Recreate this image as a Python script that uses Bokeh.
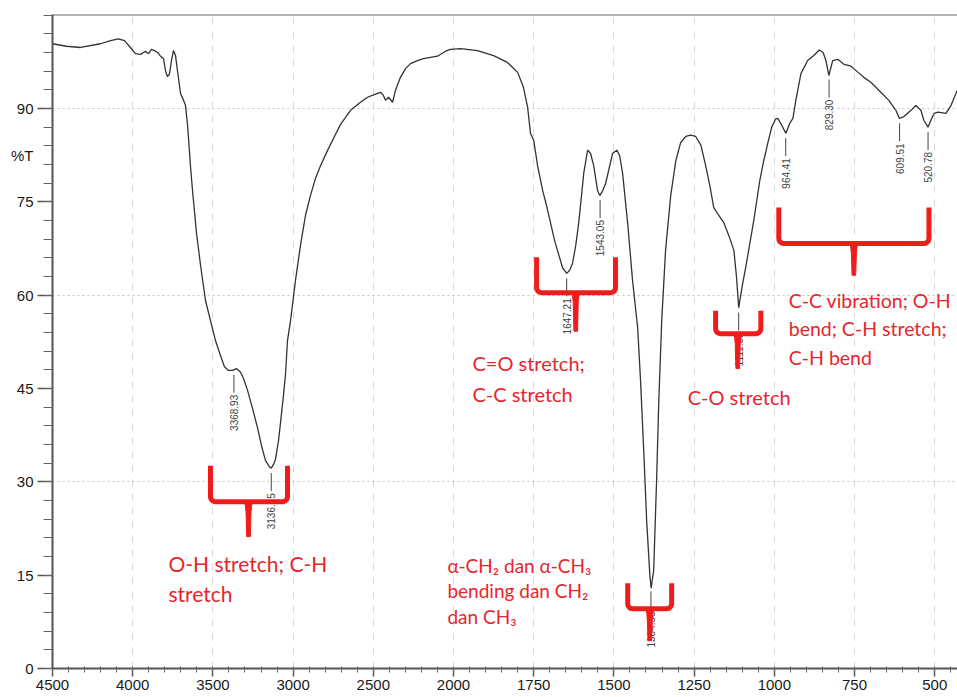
import numpy as np
from bokeh.plotting import figure
from bokeh.models import Range1d, FixedTicker, Span, LinearAxis
from bokeh.embed import file_html
from bokeh.resources import INLINE
from bokeh.core.properties import value

# ---------------- data ----------------
wavenumber = [4500, 4413, 4325, 4201, 4138, 4089, 4051, 4014, 3983, 3951, 3920, 3901, 3883,
              3864, 3845, 3827, 3808, 3796, 3783, 3771, 3758, 3746, 3733, 3721, 3702, 3683,
              3671, 3658, 3652, 3640, 3627, 3602, 3577, 3546, 3515, 3484, 3453, 3428, 3403,
              3378, 3353, 3328, 3309, 3284, 3253, 3222, 3197, 3172, 3147, 3136, 3122, 3110,
              3091, 3079, 3060, 3047, 3035, 3016, 2985, 2954, 2923, 2892, 2860, 2829, 2792,
              2754, 2705, 2642, 2580, 2536, 2486, 2455, 2437, 2424, 2405, 2380, 2362, 2331,
              2299, 2268, 2225, 2187, 2144, 2100, 2050, 2019, 1978, 1925, 1875, 1832, 1800,
              1782, 1769, 1760, 1750, 1738, 1722, 1710, 1697, 1685, 1676, 1660, 1647, 1638,
              1629, 1619, 1610, 1601, 1594, 1582, 1573, 1563, 1551, 1544, 1535, 1526, 1513,
              1504, 1491, 1482, 1473, 1457, 1442, 1426, 1417, 1407, 1398, 1388, 1384, 1376,
              1367, 1360, 1351, 1339, 1323, 1307, 1292, 1276, 1261, 1245, 1229, 1214, 1201,
              1189, 1173, 1158, 1142, 1126, 1118, 1111, 1100, 1089, 1064, 1045, 1033, 1020,
              1008, 996, 989, 977, 964, 952, 942, 933, 917, 896, 877, 860, 848, 839, 830,
              818, 802, 783, 761, 739, 721, 699, 668, 643, 621, 610, 596, 574, 559, 543,
              534, 521, 512, 502, 490, 465, 449, 430]
transmittance = [100.4, 100.0, 99.8, 100.4, 100.9, 101.2, 100.9, 99.8, 98.8, 98.7, 99.2, 98.8,
                 99.5, 99.3, 99.0, 98.4, 98.0, 96.1, 95.1, 95.5, 97.7, 99.3, 98.5, 96.1, 92.4,
                 91.3, 90.5, 87.3, 85.2, 80.8, 76.8, 69.9, 64.8, 59.1, 55.9, 52.7, 50.3, 48.5,
                 47.9, 47.9, 48.2, 47.6, 46.6, 44.7, 41.8, 38.7, 35.8, 33.4, 32.4, 32.2, 32.8,
                 33.6, 36.6, 39.4, 43.9, 47.4, 52.7, 55.9, 62.4, 68.0, 72.8, 76.0, 78.8, 80.8,
                 82.9, 84.9, 87.4, 89.7, 91.0, 91.8, 92.3, 92.6, 92.1, 91.3, 91.8, 91.0, 92.9,
                 95.0, 96.4, 97.2, 97.7, 98.0, 98.2, 98.4, 99.2, 99.5, 99.6, 99.3, 98.5, 97.4,
                 95.8, 93.4, 90.2, 86.0, 84.9, 80.8, 76.8, 74.4, 71.5, 68.8, 67.2, 64.4, 63.5,
                 64.0, 65.1, 68.0, 71.5, 76.0, 79.6, 83.3, 82.8, 80.8, 76.8, 76.0, 76.8, 77.9,
                 80.8, 82.8, 83.3, 82.4, 79.6, 71.5, 62.4, 54.8, 46.3, 35.0, 23.8, 15.0, 12.9,
                 15.8, 30.2, 43.1, 55.9, 67.2, 76.0, 81.6, 84.5, 85.5, 85.7, 85.5, 84.1, 80.8,
                 77.6, 74.1, 72.8, 71.7, 69.6, 67.2, 63.0, 58.0, 61.5, 64.5, 72.0, 78.5, 81.6,
                 84.5, 87.0, 88.3, 88.4, 87.3, 86.0, 87.6, 88.4, 91.3, 95.6, 97.7, 98.5, 99.4,
                 99.0, 97.7, 95.3, 97.7, 97.9, 97.1, 96.8, 95.8, 95.0, 94.2, 92.6, 91.3, 89.7,
                 88.4, 88.7, 89.7, 90.5, 89.7, 88.1, 87.0, 88.1, 89.2, 89.4, 89.2, 90.5, 92.9]

peak_wavenumbers = [3368.93, 3136.15, 1647.21, 1543.05, 1384.56, 1111.03, 964.41, 829.30,
                    609.51, 520.78]
peak_labels = ["3368.93", "3136.15", "1647.21", "1543.05", "1384.56", "1111.03", "964.41",
               "829.30", "609.51", "520.78"]

x_tick_wavenumbers = [4500, 4000, 3500, 3000, 2500, 2000, 1750, 1500, 1250, 1000, 750, 500]
x_tick_labels = ["4500", "4000", "3500", "3000", "2500", "2000", "1750", "1500", "1250",
                 "1000", "750", "500"]
y_tick_values = [0, 15, 30, 45, 60, 75, 90]
y_unit_label = "%T"
y_unit_position = 82.4
y_grid_values = [30, 60, 90]

# red brace annotations (wavenumber / %T positions)
bracket_left = [3515, 1741, 1457, 1183, 986]
bracket_right = [3035, 1495, 1320, 1042, 518]
bracket_center = [3278, 1619, 1388, 1114, 752]
bracket_top = [32.6, 66.1, 13.7, 57.5, 74.1]
bracket_mid = [26.8, 60.4, 9.6, 53.8, 68.3]
bracket_bottom = [21.2, 54.2, 4.5, 48.2, 63.2]

note_texts = ["O-H stretch; C-H\nstretch",
              "C=O stretch;\nC-C stretch",
              "C-O stretch",
              "C-C vibration; O-H\nbend; C-H stretch;\nC-H bend",
              "\u03b1-CH\u2082 dan \u03b1-CH\u2083\nbending dan CH\u2082\ndan CH\u2083"]
note_wn = [3777, 1941, 1270, 955, 2038]
note_top = [18.9, 51.0, 45.6, 61.0, 18.4]
note_sizes = ["21px", "20px", "20px", "19.5px", "19px"]
note_line_heights = [1.2, 1.29, 1.2, 1.24, 1.1]

# ---------------- helpers ----------------
PX_PER_U = 80.2      # pixels per axis step
PX_PER_T = 6.222     # pixels per %T


def to_u(wn):
    """Split wavenumber axis: 500 cm-1 per step above 2000, 250 cm-1 per step below."""
    wn = np.asarray(wn, dtype=float)
    return np.where(wn >= 2000, (4500 - wn) / 500.0, 5 + (2000 - wn) / 250.0)


wn_arr = np.array(wavenumber, dtype=float)
t_arr = np.array(transmittance, dtype=float)
u_arr = to_u(wn_arr)

p = figure(width=957, height=697, output_backend="svg", toolbar_location=None,
           x_range=Range1d(0, 11.284), y_range=Range1d(0, 105.1),
           min_border_left=52, min_border_right=0, min_border_top=14, min_border_bottom=29)
p.outline_line_color = None
p.background_fill_color = "white"
p.border_fill_color = "white"

# x axis
p.xaxis.ticker = FixedTicker(ticks=list(to_u(x_tick_wavenumbers)),
                             minor_ticks=[round(i * 0.2, 3) for i in range(0, 57)])
p.xaxis.major_label_overrides = {float(u): lab for u, lab in zip(to_u(x_tick_wavenumbers), x_tick_labels)}
p.xaxis.axis_line_color = "#555555"
p.xaxis.axis_line_width = 2
p.xaxis.major_tick_line_color = "#555555"
p.xaxis.minor_tick_line_color = "#666666"
p.xaxis.major_tick_line_width = 1.5
p.xaxis.major_tick_in = 0
p.xaxis.major_tick_out = 8
p.xaxis.minor_tick_out = 4
p.xaxis.minor_tick_in = 2
p.xaxis.major_label_standoff = 3
p.xaxis.major_label_text_font = "Liberation Sans"
p.xaxis.major_label_text_font_size = "15px"
p.xaxis.major_label_text_color = "#1a1a1a"

# y axis: ticks and line (inner), labels on a second axis (outer) so "%T" can sit among them
yax = p.yaxis[0]
yax.ticker = FixedTicker(ticks=y_tick_values, minor_ticks=list(range(0, 106, 3)))
yax.major_label_overrides = {v: "" for v in y_tick_values}
yax.major_label_standoff = 0
yax.axis_line_color = "#555555"
yax.axis_line_width = 2
yax.major_tick_line_color = "#555555"
yax.minor_tick_line_color = "#666666"
yax.major_tick_line_width = 1.5
yax.major_tick_in = 0
yax.major_tick_out = 15
yax.minor_tick_out = 9
yax.minor_tick_in = 0

ylab = LinearAxis(ticker=FixedTicker(ticks=y_tick_values + [y_unit_position], minor_ticks=[]),
                  major_label_overrides={y_unit_position: y_unit_label},
                  axis_line_color=None, major_tick_line_color=None, minor_tick_line_color=None,
                  major_tick_in=0, major_tick_out=0, minor_tick_in=0, minor_tick_out=0,
                  major_label_standoff=4, major_label_text_font="Liberation Sans",
                  major_label_text_font_size="15px", major_label_text_color="#1a1a1a")
p.add_layout(ylab, "left")

# grids
p.xgrid.ticker = FixedTicker(ticks=list(to_u(x_tick_wavenumbers)))
p.xgrid.grid_line_color = "#d9d9d9"
p.xgrid.grid_line_dash = "7 7"
p.ygrid.ticker = FixedTicker(ticks=y_grid_values)
p.ygrid.grid_line_color = "#c4c4c4"
p.ygrid.grid_line_dash = "2 3"

p.add_layout(Span(location=105.1, dimension="width", line_color="#666666", line_width=2))

# spectrum
p.line(u_arr, t_arr, line_color="#333333", line_width=1.3)

# peak markers
order = np.argsort(wn_arr)
peak_t = np.interp(peak_wavenumbers, wn_arr[order], t_arr[order])
peak_u = to_u(peak_wavenumbers)
gap = 5 / PX_PER_T
stick = 23 / PX_PER_T
p.segment(x0=peak_u, y0=peak_t - gap, x1=peak_u, y1=peak_t - stick,
          line_color="#444444", line_width=1)
p.text(x=peak_u, y=peak_t - stick - 2 / PX_PER_T, text=peak_labels, angle=np.pi / 2,
       text_align="right", text_baseline="middle", text_font=value("Liberation Sans"),
       text_font_size="10px", text_color="#444444")

# red braces
red = "#f01c1c"
ru, rt = 5 / PX_PER_U, 5 / PX_PER_T
brace_xs, brace_ys, stem_xs, stem_ys = [], [], [], []
for L, R, C, top, mid, bot in zip(to_u(bracket_left), to_u(bracket_right), to_u(bracket_center),
                                  bracket_top, bracket_mid, bracket_bottom):
    a1 = np.linspace(np.pi, 1.5 * np.pi, 7)
    a2 = np.linspace(1.5 * np.pi, 2 * np.pi, 7)
    xs = [L] + list(L + ru + ru * np.cos(a1)) + list(R - ru + ru * np.cos(a2)) + [R]
    ys = [top] + list(mid + rt + rt * np.sin(a1)) + list(mid + rt + rt * np.sin(a2)) + [top]
    brace_xs.append(xs)
    brace_ys.append(ys)
    px = 1 / PX_PER_U
    py = 1 / PX_PER_T
    stem_xs.append([C - 6 * px, C - 3.5 * px, C - 3 * px, C - 2.5 * px, C - 1.8 * px,
                    C + 1.8 * px, C + 2.5 * px, C + 3 * px, C + 3.5 * px, C + 6 * px])
    stem_ys.append([mid, mid - 2 * py, mid - 5 * py, mid - 10 * py, bot, bot,
                    mid - 10 * py, mid - 5 * py, mid - 2 * py, mid])
p.multi_line(brace_xs, brace_ys, line_color=red, line_width=5, line_join="round")
p.patches(stem_xs, stem_ys, fill_color=red, line_color=red, line_width=1)

# red notes
for txt, wn, top, size, lh in zip(note_texts, note_wn, note_top, note_sizes, note_line_heights):
    p.text(x=[float(to_u(wn))], y=[top], text=[txt], text_align="left", text_baseline="top",
           text_font=value("Lato"), text_font_size=size, text_color="#e8252d",
           text_line_height=lh)

open("out.html", "w").write(file_html(p, INLINE))
